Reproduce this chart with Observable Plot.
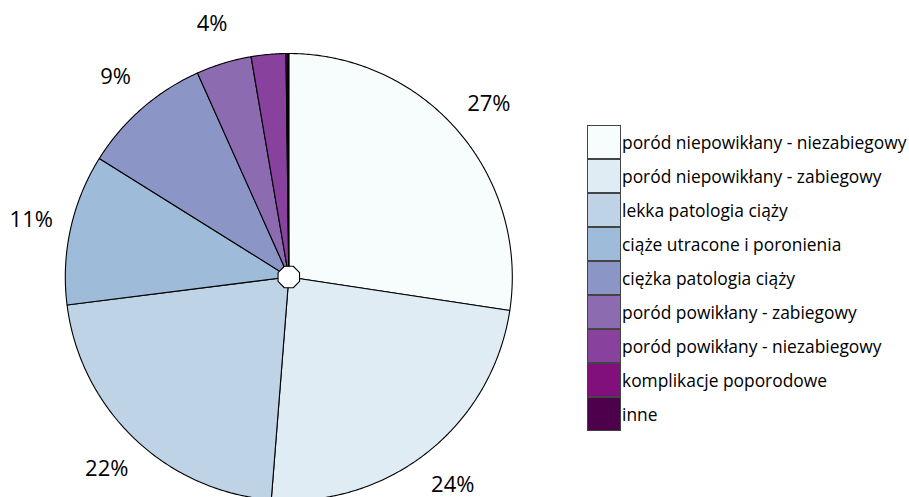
<!DOCTYPE html>
<html>
<head>
<meta charset="utf-8">
<script src="https://cdn.jsdelivr.net/npm/d3@7"></script>
<script src="https://cdn.jsdelivr.net/npm/@observablehq/plot@0.6"></script>
<style>
  html, body { margin: 0; padding: 0; background: #fff; overflow: hidden; }
  #wrap { position: relative; width: 909px; height: 497px; font-family: "Open Sans", sans-serif; }
  #legend { position: absolute; left: 587px; top: 125px; }
  .row { display: flex; align-items: center; height: 34px; }
  .sw { width: 34px; height: 34px; box-sizing: border-box; border: 1px solid #444; }
  .lab { font-size: 17.4px; color: #000; margin-left: 1px; white-space: nowrap; line-height: 34px; }
</style>
</head>
<body>
<div id="wrap"><div id="legend"></div></div>
<script>
// ---- data ----
const categories = [
  "poród niepowikłany - niezabiegowy",
  "poród niepowikłany - zabiegowy",
  "lekka patologia ciąży",
  "ciąże utracone i poronienia",
  "ciężka patologia ciąży",
  "poród powikłany - zabiegowy",
  "poród powikłany - niezabiegowy",
  "komplikacje poporodowe",
  "inne"
];
const values = [27.4, 23.85, 21.75, 10.9, 9.4, 4.0, 2.5, 0.12, 0.08];
const pctLabels = ["27%", "24%", "22%", "11%", "9%", "4%", "", "", ""];

// ---- build slice polygons in unit-circle data coordinates ----
const colors = d3.schemeBuPu[9];
const total = d3.sum(values);
const slicePts = [];
const labelPts = [];
let acc = 0;
values.forEach((v, i) => {
  const a0 = acc / total * 2 * Math.PI;
  acc += v;
  const a1 = acc / total * 2 * Math.PI;
  slicePts.push({cat: categories[i], x: 0, y: 0});
  const n = Math.max(2, Math.ceil((a1 - a0) / (Math.PI / 360)));
  for (let k = 0; k <= n; ++k) {
    const a = a0 + (a1 - a0) * k / n;
    slicePts.push({cat: categories[i], x: Math.sin(a), y: Math.cos(a)});
  }
  const am = (a0 + a1) / 2;
  if (pctLabels[i]) labelPts.push({text: pctLabels[i], x: 1.18 * Math.sin(am), y: 1.185 * Math.cos(am)});
});
const hole = d3.range(8).map(k => {
  const a = Math.PI / 8 + k * Math.PI / 4;
  return {x: 0.052 * Math.sin(a), y: 0.052 * Math.cos(a)};
});

const cx = 288.3, cy = 276.5, R = 223.5;
const chart = Plot.plot({
  width: 909,
  height: 497,
  margin: 0,
  style: {background: "transparent", overflow: "visible"},
  x: {domain: [-1, 1], range: [cx - R, cx + R], axis: null},
  y: {domain: [-1, 1], range: [cy + R, cy - R], axis: null},
  color: {domain: categories, range: colors},
  marks: [
    Plot.line(slicePts, {x: "x", y: "y", z: "cat", fill: "cat", stroke: "#000", strokeWidth: 1.1, curve: "linear-closed", strokeLinejoin: "round"}),
    Plot.line(hole, {x: "x", y: "y", fill: "#fff", stroke: "#000", strokeWidth: 1.1, curve: "linear-closed"}),
    Plot.text(labelPts, {x: "x", y: "y", text: "text", fontSize: 22, fontFamily: "Open Sans", fill: "#000"})
  ]
});
const wrap = document.getElementById("wrap");
chart.style.position = "absolute";
chart.style.left = "0px";
chart.style.top = "0px";
wrap.insertBefore(chart, wrap.firstChild);

const legend = document.getElementById("legend");
categories.forEach((c, i) => {
  const row = document.createElement("div");
  row.className = "row";
  const sw = document.createElement("div");
  sw.className = "sw";
  sw.style.background = colors[i];
  const lab = document.createElement("span");
  lab.className = "lab";
  lab.textContent = c;
  row.appendChild(sw);
  row.appendChild(lab);
  legend.appendChild(row);
});
</script>
</body>
</html>
